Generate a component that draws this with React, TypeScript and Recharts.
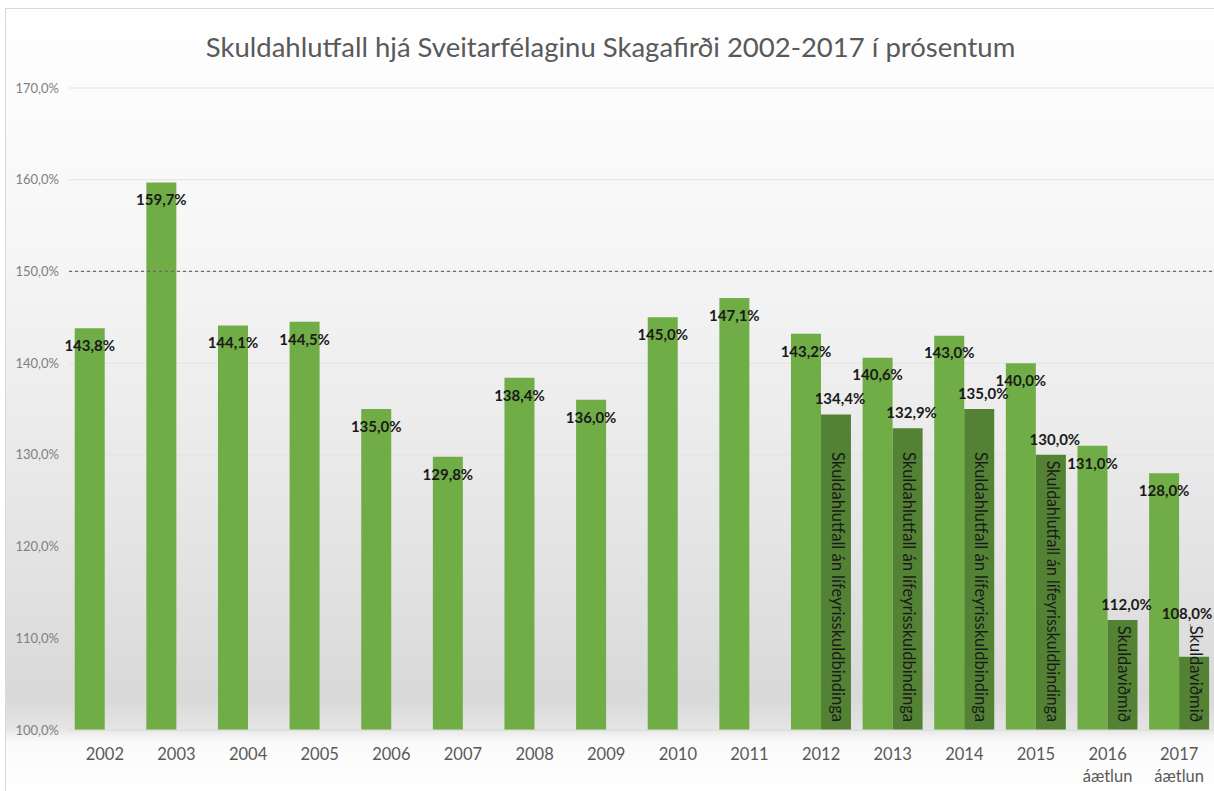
import React from 'react';
import {
  BarChart,
  Bar,
  XAxis,
  YAxis,
  CartesianGrid,
  ReferenceLine,
  LabelList,
} from 'recharts';

const years = ['2002', '2003', '2004', '2005', '2006', '2007', '2008', '2009', '2010', '2011', '2012', '2013', '2014', '2015', '2016', '2017'];
const yearNotes = ['', '', '', '', '', '', '', '', '', '', '', '', '', '', 'áætlun', 'áætlun'];
const debtRatio = [143.8, 159.7, 144.1, 144.5, 135.0, 129.8, 138.4, 136.0, 145.0, 147.1, 143.2, 140.6, 143.0, 140.0, 131.0, 128.0];
const debtRatioExcl = [null, null, null, null, null, null, null, null, null, null, 134.4, 132.9, 135.0, 130.0, 112.0, 108.0];
const barNotes = ['', '', '', '', '', '', '', '', '', '',
  'Skuldahlutfall án lífeyrisskuldbindinga',
  'Skuldahlutfall án lífeyrisskuldbindinga',
  'Skuldahlutfall án lífeyrisskuldbindinga',
  'Skuldahlutfall án lífeyrisskuldbindinga',
  'Skuldaviðmið',
  'Skuldaviðmið'];
const yTicks = [100, 110, 120, 130, 140, 150, 160, 170];

const data = years.map((year, i) => ({
  year,
  sub: yearNotes[i],
  main: debtRatio[i],
  excl: debtRatioExcl[i],
  note: barNotes[i],
}));

const W = 1209;
const H = 783;
const FONT = 'Lato, "Open Sans", sans-serif';
const NOTE_SIZE = 16.5;
const fmt = (v: number) => v.toFixed(1).replace('.', ',') + '%';
// rough length of a rotated note, used to keep labels clear of it
const noteLen = (s: string) => s.length * NOTE_SIZE * 0.44;

function YearTick({ x, y, payload, index }: any) {
  const sub = yearNotes[index] || '';
  return (
    <text x={x} y={y} textAnchor="middle" fontFamily={FONT} fontSize={16.5} fill="#595959">
      <tspan x={x} dy={24}>{payload.value}</tspan>
      {sub && <tspan x={x} dy={22}>{sub}</tspan>}
    </text>
  );
}

function MainLabel({ x, y, width, value }: any) {
  if (value == null) return null;
  return (
    <text x={x + width / 2} y={y + 19} textAnchor="middle" dominantBaseline="middle"
      fontFamily={FONT} fontWeight={700} fontSize={15} fill="#1a1a1a">
      {fmt(value)}
    </text>
  );
}

function ExclLabel({ x, y, width, height, value }: any) {
  if (value == null) return null;
  const idx = debtRatioExcl.indexOf(value);
  const cx = Math.min(x + width / 2 + 4, W - 28);
  // long notes get squeezed into the bar, only short bars push the label up
  const len = height > 150 ? 0 : noteLen(barNotes[idx] || '');
  const noteTop = y + height - 8 - len;
  const ly = Math.min(y - 14, noteTop - 20);
  const lifted = ly < y - 20;
  return (
    <g>
      {lifted && (
        <line x1={cx + 3} y1={ly + 9} x2={x + width / 2 - 1} y2={noteTop + 3} stroke="#8c8c8c" strokeWidth={1} />
      )}
      <text x={cx} y={ly} textAnchor="middle" dominantBaseline="middle"
        fontFamily={FONT} fontWeight={700} fontSize={15} fill="#1a1a1a">
        {fmt(value)}
      </text>
    </g>
  );
}

function NoteLabel({ x, y, width, height, value }: any) {
  if (!value) return null;
  const cx = x + width / 2;
  const by = y + height - 8;
  const long = height > 150;
  return (
    <text x={cx} y={by} transform={`rotate(90 ${cx} ${by})`} textAnchor="end" dominantBaseline="middle"
      fontFamily={FONT} fontSize={NOTE_SIZE} fill="#1a1a1a"
      textLength={long ? Math.min(270, height - 14) : undefined}
      lengthAdjust={long ? 'spacingAndGlyphs' : undefined}>
      {value}
    </text>
  );
}

export default function App() {
  return (
    <div
      style={{
        position: 'absolute',
        left: 5,
        top: 8,
        width: W,
        height: H,
        borderLeft: '1px solid #d9d9d9',
        borderTop: '1px solid #d9d9d9',
        background:
          'linear-gradient(to bottom, #ffffff 0%, #f6f6f6 30%, #e6e6e6 65%, #d9d9d9 88%, #e4e4e4 91.8%, #fafafa 93.5%, #ffffff 100%)',
      }}
    >
      <div
        style={{
          position: 'absolute',
          left: 0,
          top: 21,
          width: W,
          textAlign: 'center',
          fontFamily: FONT,
          fontSize: 27.5,
          color: '#595959',
        }}
      >
        Skuldahlutfall hjá Sveitarfélaginu Skagafirði 2002-2017 í prósentum
      </div>
      <BarChart
        width={W}
        height={H}
        data={data}
        margin={{ top: 79, right: 0, bottom: 22, left: 0 }}
        barCategoryGap="8%"
        barGap={0}
      >
        <CartesianGrid vertical={false} stroke="#e2e2e2" strokeWidth={1} />
        <XAxis
          dataKey="year"
          axisLine={{ stroke: '#d9d9d9' }}
          tickLine={false}
          tickSize={0}
          tickMargin={6}
          height={40}
          interval={0}
          tick={<YearTick />}
        />
        <YAxis
          domain={[100, 170]}
          ticks={yTicks}
          width={63}
          axisLine={false}
          tickLine={false}
          tickSize={0}
          tickMargin={10}
          tickFormatter={(v: number) => fmt(v)}
          tick={{ fontFamily: FONT, fontSize: 13, fill: '#808080' }}
        />
        <ReferenceLine y={150} stroke="#6b6b6b" strokeDasharray="3 3" strokeWidth={1.2} />
        <Bar dataKey="main" fill="#70ad47" isAnimationActive={false}>
          <LabelList dataKey="main" content={<MainLabel />} />
        </Bar>
        <Bar dataKey="excl" fill="#548235" isAnimationActive={false}>
          <LabelList dataKey="excl" content={<ExclLabel />} />
          <LabelList dataKey="note" content={<NoteLabel />} />
        </Bar>
      </BarChart>
    </div>
  );
}
